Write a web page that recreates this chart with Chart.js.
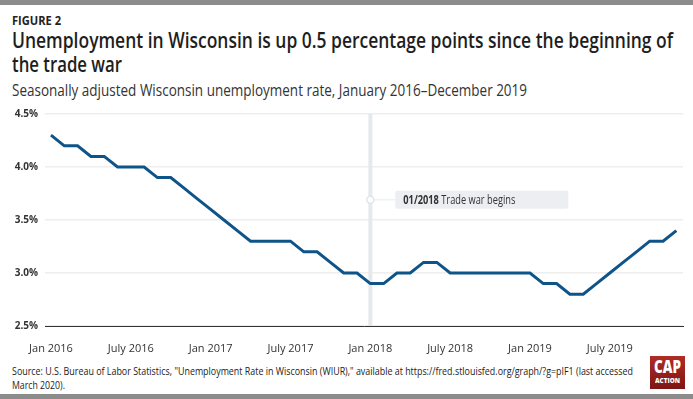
<!DOCTYPE html>
<html>
<head>
<meta charset="utf-8">
<script src="https://cdn.jsdelivr.net/npm/chart.js@4.4.1/dist/chart.umd.min.js"></script>
<style>
  html, body { margin: 0; padding: 0; }
  body { width: 693px; height: 399px; position: relative; overflow: hidden; background: #fff;
         font-family: "Open Sans", sans-serif; color: #222; }
  .bar { position: absolute; left: 0; width: 693px; height: 5px; background: #8c8c8c; }
  .fit { position: absolute; left: 12px; white-space: nowrap; transform-origin: 0 0; display: inline-block; }
  .fig { top: 13px; font-size: 11.5px; font-weight: 700; }
  .title { font-size: 21px; line-height: 24px; font-weight: 600; color: #1e1e1e; }
  .sub { top: 79px; font-size: 15.5px; color: #333; }
  .chartbox { position: absolute; left: 0; top: 100px; width: 693px; height: 260px; }
  .source { font-size: 10.5px; line-height: 14px; color: #222; }
  .logo { position: absolute; left: 650px; top: 356px; width: 35px; height: 33px;
          background: linear-gradient(#b02c27, #7c1614); color: #fff; overflow: hidden; }
  .logo .cap, .logo .act { position: absolute; left: 0; white-space: nowrap; transform-origin: 0 0; font-weight: 800; }
  .logo .cap { top: 2px; font-size: 17px; line-height: 18px; }
  .logo .act { top: 21px; font-size: 7px; line-height: 8px; }
</style>
</head>
<body>
<div class="bar" style="top:0"></div>
<div class="fit fig" data-w="49">FIGURE 2</div>
<div class="fit title" style="top:28px" data-w="661">Unemployment in Wisconsin is up 0.5 percentage points since the beginning of</div>
<div class="fit title" style="top:52px" data-w="110">the trade war</div>
<div class="fit sub" data-w="515">Seasonally adjusted Wisconsin unemployment rate, January 2016–December 2019</div>
<div class="chartbox"><canvas id="chart"></canvas></div>
<div class="fit source" style="top:364px" data-w="621">Source: U.S. Bureau of Labor Statistics, "Unemployment Rate in Wisconsin (WIUR)," available at https://fred.stlouisfed.org/graph/?g=pIF1 (last accessed</div>
<div class="fit source" style="top:378px" data-w="53">March 2020).</div>
<div class="logo"><div class="cap" data-x="4" data-w="27">CAP</div><div class="act" data-x="5" data-w="25">ACTION</div></div>
<div class="bar" style="top:394px"></div>

<script>
// months, Jan 2016 .. Dec 2019
const months = [
  '2016-01','2016-02','2016-03','2016-04','2016-05','2016-06','2016-07','2016-08','2016-09','2016-10','2016-11','2016-12',
  '2017-01','2017-02','2017-03','2017-04','2017-05','2017-06','2017-07','2017-08','2017-09','2017-10','2017-11','2017-12',
  '2018-01','2018-02','2018-03','2018-04','2018-05','2018-06','2018-07','2018-08','2018-09','2018-10','2018-11','2018-12',
  '2019-01','2019-02','2019-03','2019-04','2019-05','2019-06','2019-07','2019-08','2019-09','2019-10','2019-11','2019-12'
];
// unemployment rate, %
const rate = [
  4.3, 4.2, 4.2, 4.1, 4.1, 4.0, 4.0, 4.0, 3.9, 3.9, 3.8, 3.7,
  3.6, 3.5, 3.4, 3.3, 3.3, 3.3, 3.3, 3.2, 3.2, 3.1, 3.0, 3.0,
  2.9, 2.9, 3.0, 3.0, 3.1, 3.1, 3.0, 3.0, 3.0, 3.0, 3.0, 3.0,
  3.0, 2.9, 2.9, 2.8, 2.8, 2.9, 3.0, 3.1, 3.2, 3.3, 3.3, 3.4
];
const xTickMonths = ['2016-01','2016-07','2017-01','2017-07','2018-01','2018-07','2019-01','2019-07'];
const xTickLabels = ['Jan 2016','July 2016','Jan 2017','July 2017','Jan 2018','July 2018','Jan 2019','July 2019'];
const yTicks = [2.5, 3.0, 3.5, 4.0, 4.5];

const eventMonth = '2018-01';
const eventBold = '01/2018';
const eventText = ' Trade war begins';
const eventLabelY = 3.69;

const FONT = '"Open Sans", sans-serif';

// squeeze the humanist font to the narrow widths of the original lettering
document.querySelectorAll('[data-w]').forEach(el => {
  const w = el.getBoundingClientRect().width;
  el.style.transform = `scaleX(${(+el.dataset.w / w).toFixed(4)})`;
  if (el.dataset.x) el.style.left = el.dataset.x + 'px';
});

// ── vertical "trade war" marker + callout ──
const eventPlugin = {
  id: 'eventMarker',
  beforeDatasetsDraw(chart) {
    const { ctx, chartArea, scales: { x, y } } = chart;
    const px = x.getPixelForValue(months.indexOf(eventMonth));
    const py = y.getPixelForValue(eventLabelY);
    ctx.save();
    ctx.strokeStyle = '#e6e9ec';
    ctx.lineWidth = 4;
    ctx.beginPath();
    ctx.moveTo(px, chartArea.top);
    ctx.lineTo(px, chartArea.bottom);
    ctx.stroke();

    // callout box
    const bx = px + 25, bw = 173, bh = 18;
    ctx.lineWidth = 1;
    ctx.beginPath();
    ctx.moveTo(px, py);
    ctx.lineTo(bx, py);
    ctx.stroke();
    ctx.fillStyle = '#eceef1';
    ctx.beginPath();
    ctx.roundRect(bx, py - bh / 2, bw, bh, 2);
    ctx.fill();

    ctx.fillStyle = '#fff';
    ctx.strokeStyle = '#e2e5e8';
    ctx.lineWidth = 1.5;
    ctx.beginPath();
    ctx.arc(px, py, 3.5, 0, Math.PI * 2);
    ctx.fill();
    ctx.stroke();

    // text, narrowed to the original's width (~111px)
    ctx.font = 'bold 12px ' + FONT;
    const wb = ctx.measureText(eventBold).width;
    ctx.font = '12px ' + FONT;
    const wt = ctx.measureText(eventText).width;
    ctx.translate(bx + 8, py + 0.5);
    ctx.scale(112 / (wb + wt), 1);
    ctx.fillStyle = '#333';
    ctx.textBaseline = 'middle';
    ctx.font = 'bold 12px ' + FONT;
    ctx.fillText(eventBold, 0, 0);
    ctx.font = '12px ' + FONT;
    ctx.fillText(eventText, wb, 0);
    ctx.restore();
  }
};

new Chart(document.getElementById('chart'), {
  type: 'line',
  data: {
    datasets: [{
      data: rate.map((v, i) => ({ x: i, y: v })),
      borderColor: '#0e5489',
      borderWidth: 3,
      pointRadius: 0,
      tension: 0,
      fill: false
    }]
  },
  options: {
    responsive: true,
    maintainAspectRatio: false,
    animation: false,
    layout: { padding: { top: 14, right: 10, left: 0, bottom: 0 } },
    plugins: { legend: { display: false }, tooltip: { enabled: false } },
    scales: {
      x: {
        type: 'linear',
        min: -0.45, max: 47.5,
        afterBuildTicks: s => { s.ticks = xTickMonths.map(m => ({ value: months.indexOf(m) })); },
        afterFit: s => { s.height = 34; },
        grid: { display: false },
        border: { display: true, color: '#333', width: 1 },
        ticks: {
          color: '#333', padding: 8, maxRotation: 0, autoSkip: false,
          font: { family: FONT, size: 11 },
          callback: v => xTickLabels[xTickMonths.indexOf(months[v])]
        }
      },
      y: {
        min: 2.5, max: 4.5,
        afterBuildTicks: s => { s.ticks = yTicks.map(v => ({ value: v })); },
        afterFit: s => { s.width = 45; },
        grid: { color: '#eeeeee', lineWidth: 1.5, drawTicks: false },
        border: { display: false },
        ticks: {
          color: '#333', padding: 7,
          font: { family: FONT, size: 10, weight: 'bold' },
          callback: v => v.toFixed(1) + '%'
        }
      }
    }
  },
  plugins: [eventPlugin]
});
</script>
</body>
</html>
